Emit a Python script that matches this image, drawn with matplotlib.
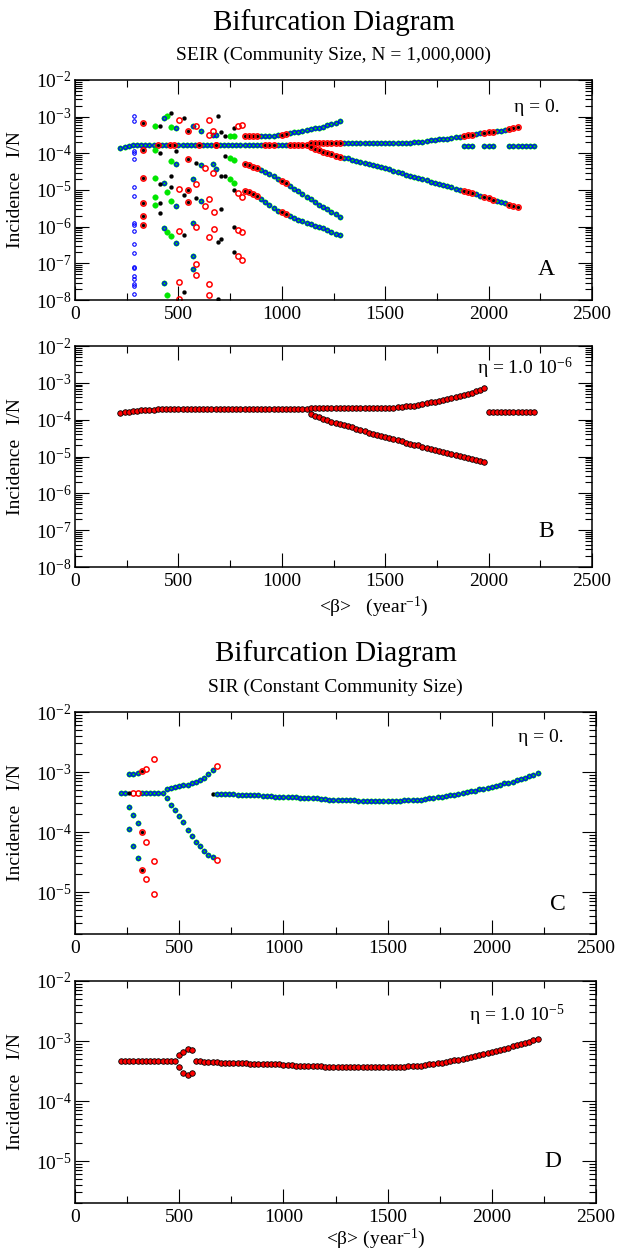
import numpy as np
import matplotlib
matplotlib.use('Agg')
import matplotlib.pyplot as plt
from matplotlib.ticker import LogLocator, MultipleLocator, NullFormatter

plt.rcParams['font.family'] = ['Liberation Serif', 'DejaVu Serif']
plt.rcParams['mathtext.fontset'] = 'custom'
plt.rcParams['mathtext.rm'] = 'Liberation Serif'
plt.rcParams['mathtext.it'] = 'Liberation Serif:italic'
plt.rcParams['mathtext.bf'] = 'Liberation Serif:bold'
plt.rcParams['axes.unicode_minus'] = False

# ---------------- DATA (beta in year^-1, values are log10(I/N)) ----------------
# Panel A : SEIR, eta = 0
a_main_beta = list(range(220, 1121, 20))
a_main_log = [-3.85, -3.82, -3.80, -3.78, -3.77, -3.76, -3.76, -3.76, -3.76, -3.76,
              -3.76, -3.76, -3.76, -3.76, -3.76, -3.76, -3.76, -3.76, -3.76, -3.76,
              -3.76, -3.76, -3.76, -3.76, -3.76, -3.76, -3.76, -3.76, -3.76, -3.76,
              -3.76, -3.76, -3.76, -3.76, -3.76, -3.76, -3.76, -3.76, -3.76, -3.76,
              -3.76, -3.76, -3.76, -3.76, -3.76, -3.76]
a_main_set = "GGGGGGGGGRGGRRGGGGGRGGGRGGGGGGGGGGGRRRGGGRRRRR"

a_p2_beta = list(range(1140, 2141, 20))
a_p2_up_log = [-3.71, -3.71, -3.71, -3.71, -3.71, -3.71, -3.72, -3.72, -3.72, -3.72,
               -3.72, -3.73, -3.73, -3.73, -3.73, -3.73, -3.73, -3.73, -3.73, -3.73,
               -3.72, -3.72, -3.72, -3.71, -3.71, -3.70, -3.69, -3.68, -3.67, -3.65,
               -3.64, -3.62, -3.61, -3.60, -3.58, -3.56, -3.55, -3.53, -3.51, -3.49,
               -3.47, -3.45, -3.44, -3.42, -3.41, -3.39, -3.38, -3.36, -3.34, -3.31,
               -3.27]
a_p2_lo_log = [-3.83, -3.88, -3.92, -3.96, -3.99, -4.03, -4.06, -4.09, -4.12, -4.14,
               -4.17, -4.20, -4.23, -4.26, -4.28, -4.31, -4.34, -4.38, -4.41, -4.44,
               -4.48, -4.51, -4.54, -4.58, -4.61, -4.64, -4.67, -4.70, -4.73, -4.77,
               -4.80, -4.83, -4.86, -4.90, -4.93, -4.96, -4.99, -5.02, -5.06, -5.09,
               -5.12, -5.16, -5.19, -5.22, -5.26, -5.29, -5.33, -5.36, -5.40, -5.43,
               -5.46]
a_p2_set = "RRRRRRRRGGGGGGGGGGGGGGGGGGGGGGGGGGGGGRRRGGRRRGGGRRR"

a_p1r_beta = [1880, 1900, 1920, 1980, 2000, 2020, 2100, 2120, 2140, 2160, 2180, 2200, 2220]
a_p1r_log = [-3.79, -3.79, -3.79, -3.79, -3.79, -3.79, -3.79, -3.79, -3.79, -3.79, -3.79, -3.79, -3.79]

a_p3_beta = list(range(820, 1281, 20))
a_p3_up_log = [-3.53, -3.53, -3.53, -3.53, -3.53, -3.53, -3.52, -3.52, -3.51, -3.49, -3.47, -3.45,
               -3.43, -3.41, -3.39, -3.37, -3.35, -3.32, -3.30, -3.27, -3.24, -3.21, -3.17, -3.13]
a_p3_mid_log = [-4.28, -4.32, -4.36, -4.40, -4.45, -4.51, -4.57, -4.63, -4.69, -4.75, -4.82, -4.89,
                -4.96, -5.04, -5.11, -5.18, -5.25, -5.33, -5.40, -5.46, -5.53, -5.59, -5.66, -5.73]
a_p3_lo_log = [-5.02, -5.06, -5.11, -5.17, -5.25, -5.33, -5.41, -5.49, -5.56, -5.61, -5.66, -5.71,
               -5.76, -5.81, -5.85, -5.89, -5.93, -5.97, -6.01, -6.05, -6.10, -6.14, -6.19, -6.24]
a_p3_set = "RRRRGGGGGRRGGGGGGGGGGGGG"

# scattered (multi-periodic / chaotic) points of panel A, grouped by beta column
a_blue_beta = [285]
a_blue_log = [[-2.97, -3.13, -3.94, -4.00, -4.15, -4.91, -5.16, -5.90, -5.95, -6.13,
               -6.47, -6.71, -7.10, -7.14, -7.35, -7.42, -7.55, -7.61, -7.84]]
a_rk_beta = [327, 547]
a_rk_log = [[-3.16, -3.91, -4.68, -5.36, -5.72, -5.95],
            [-3.38, -4.15, -5.00, -5.32]]
a_green_beta = [386, 447, 466, 751, 770]
a_green_log = [[-3.25, -3.91, -4.68, -5.18, -5.41],
               [-2.97, -5.05, -6.15, -7.85],
               [-3.28, -4.21, -5.29, -6.26],
               [-3.52, -4.12, -4.71],
               [-3.52, -4.17, -4.80]]
a_black_beta = [409, 466, 489, 527, 584, 690, 707, 726, 770]
a_black_log = [[-3.26, -4.00, -4.84, -5.36, -5.64],
               [-2.90, -4.62, -4.91],
               [-3.94],
               [-3.04, -5.14, -6.22, -7.78],
               [-4.26, -5.22],
               [-2.99, -6.42, -7.96],
               [-3.41, -4.62, -5.52, -6.33],
               [-3.52, -4.06, -4.62],
               [-3.31, -5.00, -6.02, -6.69]]
a_red_beta = [504, 586, 627, 646, 665, 671, 681, 789, 808]
a_red_log = [[-3.10, -4.96, -6.11, -7.51, -7.96],
             [-3.25, -4.84, -6.02, -7.01, -7.32],
             [-4.39, -5.43],
             [-3.10, -3.49, -5.25, -6.29, -7.55, -7.85],
             [-3.40, -4.53],
             [-5.61, -6.06],
             [-3.76],
             [-3.26, -5.09, -6.08, -6.81],
             [-3.24, -5.20, -6.15, -6.92]]
a_bg_beta = [428, 489, 570, 608, 665, 681]
a_bg_log = [[-3.04, -4.82, -6.04, -7.53],
            [-3.31, -4.30, -5.43, -6.44],
            [-3.26, -4.71, -5.90, -6.81, -7.16],
            [-3.40, -4.32, -5.31],
            [-3.51, -4.28],
            [-3.51, -4.44]]

# Panel B : SEIR, eta = 1.0e-6
b_main_beta = list(range(220, 1121, 20))
b_main_log = [-3.83, -3.80, -3.78, -3.77, -3.76, -3.75, -3.74, -3.73, -3.73, -3.72,
              -3.72, -3.72, -3.72, -3.72, -3.72, -3.72, -3.72, -3.72, -3.72, -3.72,
              -3.72, -3.72, -3.72, -3.72, -3.72, -3.72, -3.72, -3.72, -3.72, -3.72,
              -3.72, -3.72, -3.72, -3.72, -3.72, -3.72, -3.72, -3.72, -3.72, -3.72,
              -3.72, -3.72, -3.72, -3.72, -3.72, -3.72]
b_p2_beta = list(range(1140, 1981, 20))
b_p2_up_log = [-3.69, -3.68, -3.68, -3.68, -3.68, -3.68, -3.68, -3.68, -3.68, -3.68,
               -3.68, -3.68, -3.68, -3.68, -3.68, -3.68, -3.68, -3.68, -3.68, -3.68,
               -3.67, -3.66, -3.65, -3.64, -3.63, -3.62, -3.60, -3.58, -3.56, -3.53,
               -3.51, -3.49, -3.46, -3.44, -3.41, -3.39, -3.36, -3.33, -3.30, -3.27,
               -3.23, -3.19, -3.14]
b_p2_lo_log = [-3.84, -3.89, -3.94, -3.98, -4.02, -4.06, -4.09, -4.12, -4.15, -4.18,
               -4.21, -4.25, -4.28, -4.32, -4.35, -4.39, -4.42, -4.45, -4.48, -4.51,
               -4.53, -4.56, -4.59, -4.62, -4.65, -4.68, -4.70, -4.73, -4.76, -4.79,
               -4.81, -4.84, -4.88, -4.91, -4.94, -4.97, -4.99, -5.02, -5.04, -5.07,
               -5.09, -5.12, -5.14]
b_right_beta = list(range(2000, 2221, 20))
b_right_log = [-3.78, -3.78, -3.78, -3.78, -3.78, -3.78, -3.78, -3.78, -3.78, -3.78, -3.78, -3.78]

# Panel C : SIR, eta = 0
c_left_beta = [220, 240, 260, 280, 300, 320, 340, 360, 380, 400, 420]
c_left_log = [-3.35, -3.35, -3.35, -3.35, -3.35, -3.35, -3.35, -3.35, -3.35, -3.35, -3.35]
c_left_set = "GGKrrGGGGGG"
c_p2_beta = list(range(440, 681, 20))
c_p2_up_log = [-3.29, -3.26, -3.25, -3.23, -3.22, -3.21, -3.19, -3.17, -3.14, -3.10, -3.04, -2.97, -2.90]
c_p2_lo_log = [-3.43, -3.55, -3.64, -3.73, -3.84, -3.96, -4.07, -4.16, -4.24, -4.32, -4.38, -4.42, -4.46]
c_p2_set = "GGGGGGGGGGGGr"
c_bg_beta = [260, 280, 300]
c_bg_log = [[-3.04, -3.58, -3.95], [-3.03, -3.72, -4.23], [-3.02, -3.85, -4.43]]
c_rk_beta = [320]
c_rk_log = [[-2.98, -4.00, -4.63]]
c_red_beta = [340, 380]
c_red_log = [[-2.95, -4.16, -4.78], [-2.79, -4.49, -5.04]]
c_black_beta = [660]
c_black_log = [[-3.36]]
c_right_beta = list(range(680, 2221, 20))
c_right_log = [-3.36, -3.36, -3.37, -3.37, -3.37, -3.38, -3.38, -3.38, -3.39, -3.39,
               -3.39, -3.40, -3.40, -3.40, -3.41, -3.41, -3.41, -3.42, -3.42, -3.42,
               -3.43, -3.43, -3.44, -3.44, -3.44, -3.45, -3.45, -3.46, -3.46, -3.46,
               -3.47, -3.47, -3.47, -3.47, -3.48, -3.48, -3.48, -3.48, -3.48, -3.48,
               -3.48, -3.48, -3.48, -3.48, -3.48, -3.47, -3.47, -3.47, -3.46, -3.46,
               -3.45, -3.44, -3.43, -3.42, -3.41, -3.40, -3.39, -3.38, -3.37, -3.35,
               -3.34, -3.32, -3.31, -3.29, -3.28, -3.26, -3.25, -3.23, -3.21, -3.19,
               -3.18, -3.16, -3.14, -3.12, -3.10, -3.07, -3.05, -3.02]

# Panel D : SIR, eta = 1.0e-5
d_left_beta = list(range(220, 481, 20))
d_left_log = [-3.33, -3.33, -3.33, -3.33, -3.33, -3.33, -3.33, -3.33, -3.33, -3.33, -3.33, -3.33, -3.33, -3.33]
d_bub_beta = [500, 520, 540, 560]
d_bub_up_log = [-3.23, -3.18, -3.14, -3.15]
d_bub_lo_log = [-3.44, -3.53, -3.57, -3.54]
d_right_beta = list(range(580, 2221, 20))
d_right_log = [-3.34, -3.34, -3.35, -3.35, -3.35, -3.35, -3.36, -3.36, -3.36, -3.37,
               -3.37, -3.37, -3.37, -3.38, -3.38, -3.38, -3.38, -3.39, -3.39, -3.39,
               -3.39, -3.40, -3.40, -3.40, -3.41, -3.41, -3.41, -3.42, -3.42, -3.42,
               -3.42, -3.43, -3.43, -3.43, -3.43, -3.43, -3.44, -3.44, -3.44, -3.44,
               -3.44, -3.44, -3.44, -3.44, -3.44, -3.44, -3.44, -3.43, -3.43, -3.43,
               -3.43, -3.42, -3.42, -3.41, -3.41, -3.40, -3.39, -3.38, -3.37, -3.36,
               -3.35, -3.33, -3.32, -3.31, -3.30, -3.28, -3.27, -3.25, -3.24, -3.22,
               -3.20, -3.19, -3.17, -3.15, -3.13, -3.11, -3.09, -3.07, -3.05, -3.03,
               -3.01, -2.99, -2.97]

x_ticks = [0, 500, 1000, 1500, 2000, 2500]

# ---------------- STYLE ----------------
GREEN = '#00e600'
BLUE = '#0000ff'
RED = '#ff0000'
BLACK = '#000000'


def draw(ax, beta, logs, kind):
    x = np.asarray(beta, float)
    y = 10.0 ** np.asarray(logs, float)
    if kind == 'G':      # blue open circle over green filled circle
        ax.plot(x, y, 'o', ls='none', ms=3.9, mfc=GREEN, mec=GREEN, mew=0.3)
        ax.plot(x, y, 'o', ls='none', ms=2.6, mfc='none', mec=BLUE, mew=0.9)
    elif kind == 'R':    # red open circle over black dot
        ax.plot(x, y, 'o', ls='none', ms=2.4, mfc=BLACK, mec=BLACK, mew=0.2)
        ax.plot(x, y, 'o', ls='none', ms=3.8, mfc='none', mec=RED, mew=1.1)
    elif kind == 'K':
        ax.plot(x, y, 'o', ls='none', ms=2.9, mfc=BLACK, mec=BLACK, mew=0.2)
    elif kind == 'r':
        ax.plot(x, y, 'o', ls='none', ms=3.8, mfc='none', mec=RED, mew=1.1)
    elif kind == 'g':
        ax.plot(x, y, 'o', ls='none', ms=4.0, mfc=GREEN, mec=GREEN, mew=0.3)
    elif kind == 'b':
        ax.plot(x, y, 'o', ls='none', ms=2.5, mfc='none', mec=BLUE, mew=0.8)
    elif kind == 'F':    # filled red with black rim (noise runs)
        ax.plot(x, y, 'o', ls='none', ms=4.0, mfc=RED, mec=BLACK, mew=0.6)


def draw_coded(ax, beta, logs, codes):
    beta = np.asarray(beta, float)
    logs = np.asarray(logs, float)
    codes = np.array(list(codes))
    for k in 'GgRrKb':
        m = codes == k
        if m.any():
            draw(ax, beta[m], logs[m], k)


def draw_cols(ax, betas, log_lists, kind):
    xs = [b for b, ls in zip(betas, log_lists) for _ in ls]
    ys = [v for ls in log_lists for v in ls]
    draw(ax, xs, ys, kind)


def setup(ax, ymin, ymax, width_px):
    ax.set_yscale('log')
    ax.set_xlim(0, 2500)
    ax.set_ylim(ymin, ymax)
    ax.set_xticks(x_ticks)
    ax.xaxis.set_minor_locator(MultipleLocator(250))
    ax.yaxis.set_major_locator(LogLocator(base=10, numticks=20))
    ax.yaxis.set_minor_locator(LogLocator(base=10, subs=np.arange(2, 10), numticks=20))
    ax.yaxis.set_minor_formatter(NullFormatter())
    ax.tick_params(which='both', direction='in', top=True, right=True, width=0.8)
    ax.tick_params(which='major', length=10, labelsize=14)
    ax.tick_params(axis='y', which='major', pad=2.5)
    ax.tick_params(axis='x', which='major', pad=4)
    ax.tick_params(which='minor', length=5)
    for s in ax.spines.values():
        s.set_linewidth(1.1)
    ax.set_ylabel('Incidence   I/N', fontsize=14)
    ax.yaxis.set_label_coords((24.5 - 75) / width_px, 0.5)


W, H = 618, 1251
fig = plt.figure(figsize=(W / 100, H / 100), dpi=100)

axA = fig.add_axes([75 / W, 1 - 300 / H, 517 / W, 220 / H])
axB = fig.add_axes([75 / W, 1 - 567 / H, 517 / W, 221 / H])
axC = fig.add_axes([75 / W, 1 - 934 / H, 521 / W, 222 / H])
axD = fig.add_axes([75 / W, 1 - 1203 / H, 521 / W, 222 / H])

setup(axA, 1e-8, 1e-2, 517)
setup(axB, 1e-8, 1e-2, 517)
setup(axC, 2e-6, 1e-2, 521)
setup(axD, 2e-6, 1e-2, 521)

# ---- Panel A
draw_coded(axA, a_main_beta, a_main_log, a_main_set)
draw_coded(axA, a_p2_beta, a_p2_up_log, a_p2_set)
draw_coded(axA, a_p2_beta, a_p2_lo_log, a_p2_set)
draw_coded(axA, a_p1r_beta, a_p1r_log, "G" * 0 + "GGGGGGGGGGGGG")
draw_coded(axA, a_p3_beta, a_p3_up_log, a_p3_set)
draw_coded(axA, a_p3_beta, a_p3_mid_log, a_p3_set)
draw_coded(axA, a_p3_beta, a_p3_lo_log, a_p3_set)
draw_cols(axA, a_green_beta, a_green_log, 'g')
draw_cols(axA, a_bg_beta, a_bg_log, 'G')
draw_cols(axA, a_black_beta, a_black_log, 'K')
draw_cols(axA, a_rk_beta, a_rk_log, 'R')
draw_cols(axA, a_red_beta, a_red_log, 'r')
draw_cols(axA, a_blue_beta, a_blue_log, 'b')
axA.text(2124, 10 ** -2.76, 'η = 0.', fontsize=14, ha='left', va='center')
axA.text(2240, 10 ** -7.18, 'A', fontsize=17, ha='left', va='center')

# ---- Panel B
draw(axB, b_main_beta, b_main_log, 'F')
draw(axB, b_p2_beta, b_p2_up_log, 'F')
draw(axB, b_p2_beta, b_p2_lo_log, 'F')
draw(axB, b_right_beta, b_right_log, 'F')
axB.text(1945, 10 ** -2.62, 'η = 1.0 10$^{-6}$', fontsize=14, ha='left', va='center')
axB.text(2240, 10 ** -7.03, 'B', fontsize=17, ha='left', va='center')
axB.set_xlabel('<β>   (year$^{-1}$)', fontsize=14)
axB.xaxis.set_label_coords(0.577, -0.125)

# ---- Panel C
draw_coded(axC, c_left_beta, c_left_log, c_left_set)
draw_coded(axC, c_p2_beta, c_p2_up_log, c_p2_set)
draw_coded(axC, c_p2_beta, c_p2_lo_log, c_p2_set)
draw_cols(axC, c_bg_beta, c_bg_log, 'G')
draw_cols(axC, c_rk_beta, c_rk_log, 'R')
draw_cols(axC, c_red_beta, c_red_log, 'r')
draw_cols(axC, c_black_beta, c_black_log, 'K')
draw(axC, c_right_beta, c_right_log, 'G')
axC.text(2126, 10 ** -2.43, 'η = 0.', fontsize=14, ha='left', va='center')
axC.text(2280, 10 ** -5.21, 'C', fontsize=17, ha='left', va='center')

# ---- Panel D
draw(axD, d_left_beta, d_left_log, 'F')
draw(axD, d_bub_beta, d_bub_up_log, 'F')
draw(axD, d_bub_beta, d_bub_lo_log, 'F')
draw(axD, d_right_beta, d_right_log, 'F')
axD.text(1890, 10 ** -2.58, 'η = 1.0 10$^{-5}$', fontsize=14, ha='left', va='center')
axD.text(2250, 10 ** -5.0, 'D', fontsize=17, ha='left', va='center')
axD.set_xlabel('<β> (year$^{-1}$)', fontsize=14)
axD.xaxis.set_label_coords(0.577, -0.108)

# ---- Titles
cx1 = 333.5 / W
cx2 = 335.5 / W
fig.text(cx1, 1 - 23 / H, 'Bifurcation Diagram', fontsize=21, ha='center', va='center')
fig.text(cx1, 1 - 55.5 / H, 'SEIR (Community Size, N = 1,000,000)', fontsize=14, ha='center', va='center')
fig.text(cx2, 1 - 654 / H, 'Bifurcation Diagram', fontsize=21, ha='center', va='center')
fig.text(cx2, 1 - 687.5 / H, 'SIR (Constant Community Size)', fontsize=14, ha='center', va='center')

fig.savefig('out.png', dpi=100, facecolor='white')
